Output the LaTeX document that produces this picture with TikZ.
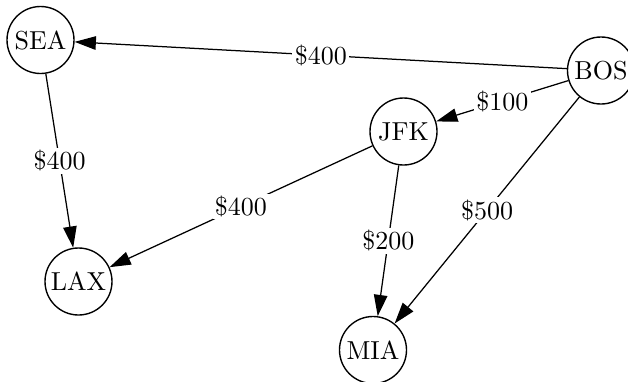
\documentclass[tikz,border=0pt]{standalone}
\usetikzlibrary{arrows.meta}
\begin{document}
\begin{tikzpicture}[x=0.4pt,y=-0.4pt,
  city/.style={draw,circle,line width=0.55pt,minimum size=26.8pt,inner sep=0pt,font=\fontsize{10.4}{12}\selectfont},
  route/.style={line width=0.5pt,-{Triangle[length=8.5pt,width=5.4pt]}},
  cost/.style={fill=white,inner sep=1pt,font=\fontsize{10.4}{12}\selectfont}]
\useasboundingbox (0,0) rectangle (628,381);
\node[city] (SEA) at (40.5,40) {SEA};
\node[city] (BOS) at (601,70.5) {BOS};
\node[city] (JFK) at (403.5,131.5) {JFK};
\node[city] (LAX) at (78.5,281.5) {LAX};
\node[city] (MIA) at (373,350) {MIA};
\draw[route] (BOS) -- node[cost] (c1) {\$400} (SEA);
\draw[route] (BOS) -- node[cost] (c2) {\$100} (JFK);
\draw[route] (SEA) -- node[cost] (c3) {\$400} (LAX);
\draw[route] (JFK) -- node[cost] (c4) {\$400} (LAX);
\draw[route] (JFK) -- node[cost] (c5) {\$200} (MIA);
\draw[route] (BOS) -- node[cost] (c6) {\$500} (MIA);
\end{tikzpicture}
\end{document}
